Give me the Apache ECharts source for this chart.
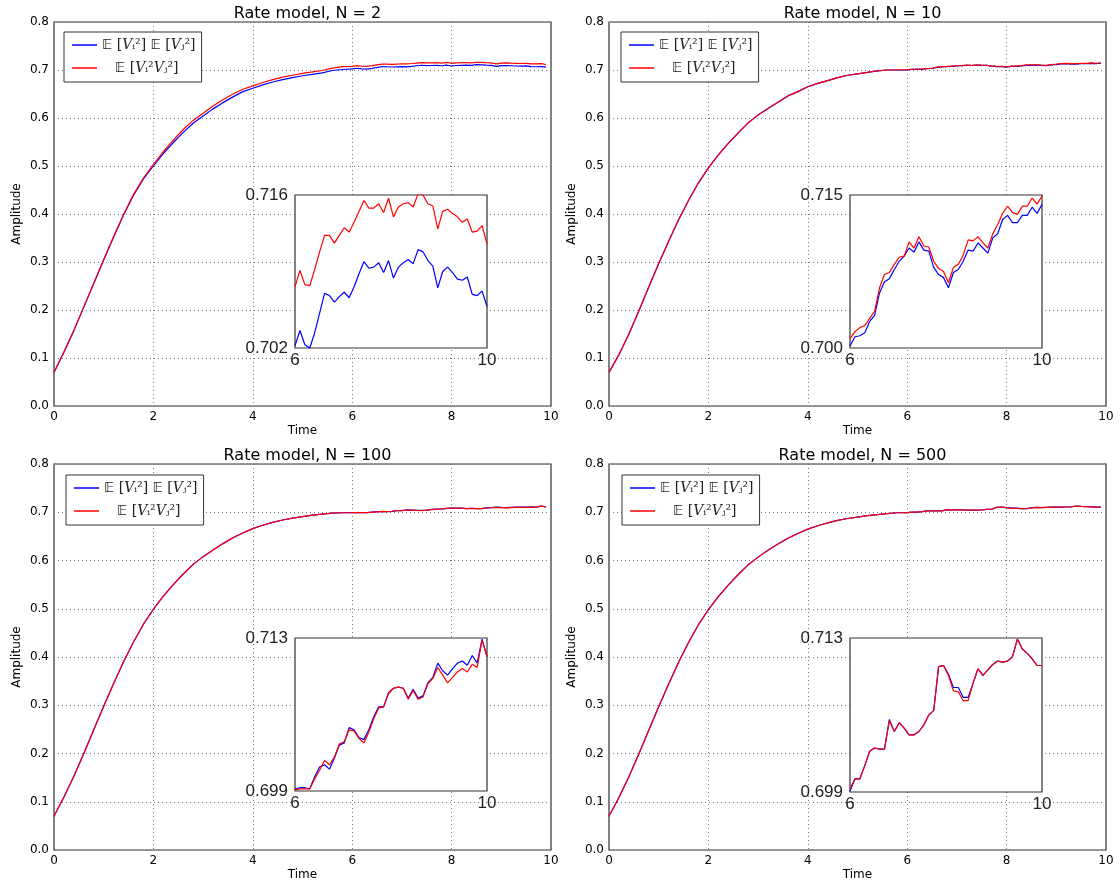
<!DOCTYPE html>
<html><head><meta charset="utf-8">
<script src="https://cdn.jsdelivr.net/npm/echarts@6/dist/echarts.min.js"></script>
<style>html,body{margin:0;padding:0;background:#fff}#c{width:1120px;height:886px}</style>
</head><body><div id="c"></div>
<script>
// ---- data ----
const timeEarly = [0.0,0.2,0.4,0.6,0.8,1.0,1.2,1.4,1.6,1.8,2.0,2.2,2.4,2.6,2.8,3.0,3.2,3.4,3.6,3.8,4.0,4.2,4.4,4.6,4.8,5.0,5.2,5.4,5.6,5.8];
const timeLate = [6.0,6.1,6.2,6.3,6.4,6.5,6.6,6.7,6.8,6.9,7.0,7.1,7.2,7.3,7.4,7.5,7.6,7.7,7.8,7.9,8.0,8.1,8.2,8.3,8.4,8.5,8.6,8.7,8.8,8.9,9.0,9.1,9.2,9.3,9.4,9.5,9.6,9.7,9.8,9.9];

const titles = ['Rate model, N = 2','Rate model, N = 10','Rate model, N = 100','Rate model, N = 500'];
const insetRanges = [[0.702,0.716],[0.700,0.715],[0.699,0.713],[0.699,0.713]];

const n2EarlyBlue = [0.070,0.112,0.157,0.206,0.255,0.304,0.352,0.398,0.439,0.473,0.500,0.526,0.549,0.570,0.589,0.604,0.619,0.632,0.644,0.655,0.662,0.669,0.675,0.680,0.684,0.688,0.691,0.694,0.699,0.701];
const n2EarlyRed  = [0.070,0.113,0.158,0.207,0.256,0.305,0.353,0.399,0.441,0.475,0.503,0.530,0.554,0.576,0.595,0.610,0.625,0.638,0.650,0.660,0.667,0.674,0.680,0.685,0.689,0.693,0.696,0.699,0.704,0.707];
const n2LateBlue = [0.7022,0.7036,0.7023,0.7020,0.7034,0.7052,0.7070,0.7068,0.7062,0.7067,0.7071,0.7066,0.7076,0.7088,0.7099,0.7093,0.7094,0.7098,0.7089,0.7100,0.7084,0.7094,0.7098,0.7101,0.7097,0.7110,0.7108,0.7100,0.7095,0.7075,0.7090,0.7094,0.7089,0.7083,0.7082,0.7085,0.7069,0.7068,0.7072,0.7058];
const n2LateRed  = [0.7076,0.7091,0.7078,0.7077,0.7092,0.7108,0.7123,0.7123,0.7116,0.7123,0.7130,0.7126,0.7135,0.7145,0.7155,0.7148,0.7148,0.7152,0.7144,0.7157,0.7140,0.7149,0.7152,0.7153,0.7149,0.7161,0.7160,0.7152,0.7150,0.7129,0.7145,0.7147,0.7143,0.7140,0.7135,0.7138,0.7126,0.7127,0.7132,0.7115];

const n10Early = [0.070,0.107,0.150,0.198,0.248,0.297,0.343,0.388,0.428,0.465,0.496,0.523,0.547,0.569,0.590,0.606,0.620,0.633,0.646,0.655,0.665,0.672,0.678,0.684,0.689,0.692,0.695,0.698,0.700,0.700];
const n10LateBlue = [0.7002,0.7011,0.7012,0.7015,0.7026,0.7032,0.7054,0.7065,0.7068,0.7077,0.7085,0.7090,0.7098,0.7094,0.7104,0.7096,0.7095,0.7079,0.7072,0.7069,0.7059,0.7074,0.7077,0.7085,0.7096,0.7095,0.7103,0.7098,0.7093,0.7108,0.7112,0.7126,0.7130,0.7123,0.7123,0.7130,0.7130,0.7138,0.7132,0.7141];
const n10LateRed  = [0.7009,0.7016,0.7020,0.7022,0.7029,0.7036,0.7059,0.7072,0.7074,0.7082,0.7089,0.7090,0.7104,0.7098,0.7109,0.7100,0.7099,0.7085,0.7078,0.7075,0.7064,0.7079,0.7082,0.7091,0.7106,0.7105,0.7109,0.7103,0.7098,0.7112,0.7121,0.7132,0.7139,0.7133,0.7131,0.7139,0.7139,0.7147,0.7141,0.7149];

const n100Early = [0.070,0.110,0.153,0.200,0.249,0.298,0.345,0.390,0.431,0.468,0.499,0.526,0.550,0.572,0.592,0.608,0.622,0.635,0.647,0.657,0.666,0.673,0.679,0.684,0.688,0.691,0.694,0.696,0.698,0.699];
const n100LateBlue = [0.6992,0.6993,0.6993,0.6992,0.7003,0.7012,0.7014,0.7010,0.7020,0.7032,0.7034,0.7048,0.7046,0.7039,0.7037,0.7046,0.7058,0.7067,0.7067,0.7080,0.7084,0.7085,0.7084,0.7075,0.7083,0.7075,0.7077,0.7089,0.7094,0.7107,0.7100,0.7096,0.7102,0.7107,0.7109,0.7105,0.7114,0.7107,0.7129,0.7113];
const n100LateRed  = [0.6991,0.6992,0.6992,0.6992,0.7001,0.7009,0.7018,0.7014,0.7021,0.7033,0.7035,0.7046,0.7045,0.7038,0.7034,0.7044,0.7056,0.7066,0.7067,0.7079,0.7084,0.7085,0.7084,0.7074,0.7082,0.7074,0.7076,0.7088,0.7093,0.7103,0.7096,0.7089,0.7094,0.7099,0.7102,0.7099,0.7106,0.7103,0.7128,0.7113];

const n500Early = [0.070,0.109,0.152,0.199,0.248,0.297,0.344,0.389,0.430,0.467,0.498,0.525,0.549,0.571,0.591,0.607,0.621,0.634,0.646,0.656,0.665,0.672,0.678,0.683,0.687,0.690,0.693,0.695,0.697,0.699];
const n500LateBlue = [0.6991,0.7002,0.7002,0.7014,0.7027,0.7030,0.7029,0.7029,0.7056,0.7045,0.7053,0.7048,0.7042,0.7042,0.7045,0.7051,0.7060,0.7064,0.7104,0.7105,0.7097,0.7085,0.7085,0.7076,0.7076,0.7089,0.7102,0.7096,0.7101,0.7106,0.7109,0.7108,0.7109,0.7113,0.7129,0.7120,0.7116,0.7111,0.7105,0.7105];
const n500LateRed  = [0.6993,0.7002,0.7002,0.7014,0.7027,0.7030,0.7029,0.7029,0.7055,0.7045,0.7053,0.7048,0.7042,0.7042,0.7045,0.7051,0.7060,0.7064,0.7104,0.7105,0.7096,0.7082,0.7081,0.7073,0.7073,0.7089,0.7102,0.7096,0.7101,0.7106,0.7109,0.7108,0.7109,0.7113,0.7129,0.7120,0.7116,0.7111,0.7105,0.7105];

const seriesNames = ['prod','joint'];

// ---- layout / style ----
const panelData = [
  {early:[n2EarlyBlue,n2EarlyRed], late:[n2LateBlue,n2LateRed]},
  {early:[n10Early,n10Early], late:[n10LateBlue,n10LateRed]},
  {early:[n100Early,n100Early], late:[n100LateBlue,n100LateRed]},
  {early:[n500Early,n500Early], late:[n500LateBlue,n500LateRed]}
];
const mainRects = [[54,22,497,384],[609,22,497,384],[54,464,497,386],[609,464,497,386]];
const insetRects = [[295,195,192,153],[850,195,192,153],[295,638,192,153],[850,638,192,154]];
const legendPos = [[64,32],[621,32],[66,475],[622,475]];
const colors = ['#0000ff','#ff0000'];
const FONT = 'DejaVu Sans';
const INSET_FONT = 'Liberation Sans';

function zip(xs, ys){ return xs.map((x,i)=>[x, ys[i]]); }

const grid=[], xAxis=[], yAxis=[], series=[], title=[], legend=[];
panelData.forEach((p, i) => {
  const m = mainRects[i], s = insetRects[i], rng = insetRanges[i];
  const gm = 2*i, gi = 2*i+1;
  grid.push({left:m[0], top:m[1], width:m[2], height:m[3], show:true, borderColor:'#333', borderWidth:1.2, backgroundColor:'transparent', containLabel:false});
  grid.push({left:s[0], top:s[1], width:s[2], height:s[3], show:true, borderColor:'#333', borderWidth:1.2, backgroundColor:'#fff', containLabel:false, z:10});
  xAxis.push({gridIndex:gm, type:'value', min:0, max:10, interval:2,
    axisLine:{show:false}, axisTick:{show:false},
    axisLabel:{color:'#000', fontSize:12, fontFamily:FONT, margin:5},
    splitLine:{show:true, lineStyle:{type:[1,3], color:'#777', width:1}},
    name:'Time', nameLocation:'middle', nameGap:19, nameTextStyle:{fontSize:12, color:'#000', fontFamily:FONT}});
  yAxis.push({gridIndex:gm, type:'value', min:0, max:0.8, interval:0.1,
    axisLine:{show:false}, axisTick:{show:false},
    axisLabel:{color:'#000', fontSize:12, fontFamily:FONT, margin:5, formatter:v=>v.toFixed(1)},
    splitLine:{show:true, lineStyle:{type:[1,3], color:'#777', width:1}},
    name:'Amplitude', nameLocation:'middle', nameGap:31, nameTextStyle:{fontSize:12, color:'#000', fontFamily:FONT}});
  xAxis.push({gridIndex:gi, type:'value', min:6, max:9.9, z:11,
    axisLine:{show:false}, axisTick:{show:false}, splitLine:{show:false},
    axisLabel:{customValues:[6,9.9], color:'#222', fontSize:17, fontFamily:INSET_FONT, margin:4, formatter:v=>String(Math.round(v))}});
  yAxis.push({gridIndex:gi, type:'value', min:rng[0], max:rng[1], z:11,
    axisLine:{show:false}, axisTick:{show:false}, splitLine:{show:false},
    axisLabel:{customValues:[rng[0],rng[1]], color:'#222', fontSize:17, fontFamily:INSET_FONT, margin:7, formatter:v=>v.toFixed(3)}});
  [0,1].forEach(k => {
    series.push({type:'line', name:seriesNames[k], xAxisIndex:gm, yAxisIndex:gm,
      data: zip(timeEarly.concat(timeLate), p.early[k].concat(p.late[k])),
      showSymbol:false, symbol:'none', lineStyle:{color:colors[k], width:1.2}, itemStyle:{color:colors[k]}, z:2+k, animation:false});
  });
  [0,1].forEach(k => {
    series.push({type:'line', name:seriesNames[k], xAxisIndex:gi, yAxisIndex:gi,
      data: zip(timeLate, p.late[k]), clip:true,
      showSymbol:false, symbol:'none', lineStyle:{color:colors[k], width:1.2}, itemStyle:{color:colors[k]}, z:12+k, animation:false});
  });
  title.push({text:titles[i], left:m[0]+m[2]/2, top:m[1]-21, textAlign:'center',
    textStyle:{fontSize:16, fontWeight:'normal', color:'#000', fontFamily:FONT}});
  legend.push({data:seriesNames, left:legendPos[i][0], top:legendPos[i][1], orient:'vertical',
    padding:[5,6,6,8], itemGap:7, itemWidth:25, itemHeight:1.5, icon:'rect', selectedMode:false,
    borderColor:'#333', borderWidth:1, backgroundColor:'#fff', z:20,
    formatter: n => n==='prod'
      ? '{e|𝔼} [{v|V}ᵢ²] {e|𝔼} [{v|V}ⱼ²]'
      : '{pad|}{e|𝔼} [{v|V}ᵢ²{v|V}ⱼ²]',
    textStyle:{fontSize:14, color:'#222', fontFamily:'DejaVu Serif', lineHeight:16,
      rich:{e:{fontFamily:'DejaVu Sans', fontSize:14, color:'#222'},
            v:{fontFamily:'DejaVu Serif', fontStyle:'italic', fontSize:14, color:'#222'},
            pad:{width:13}}}});
});

const chart = echarts.init(document.getElementById('c'), null, {renderer:'canvas'});
chart.setOption({animation:false, backgroundColor:'#fff', title, legend, grid, xAxis, yAxis, series});
</script></body></html>
